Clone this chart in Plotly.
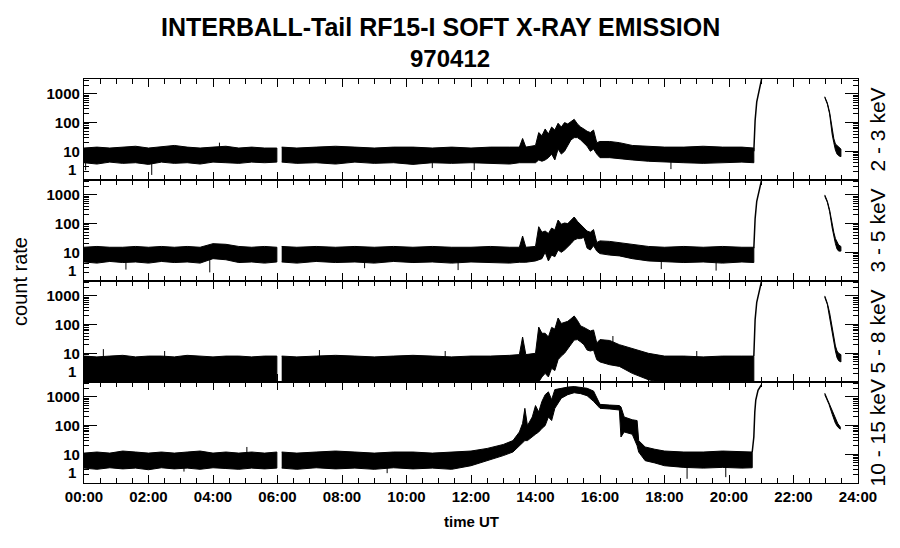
import plotly.graph_objects as go
from plotly.subplots import make_subplots

# ---------------- data ----------------
# time in hours UT
T_QUIET = [0.0, 0.4, 0.8, 1.2, 1.6, 2.0, 2.4, 2.8, 3.2, 3.6, 4.0, 4.4, 4.8, 5.2, 5.6, 5.98]
T_MAIN = [6.13, 6.6, 7.2, 7.8, 8.4, 9.0, 9.6, 10.2, 10.8, 11.4,
          12.0, 12.6, 13.2, 13.5, 13.6, 13.7,
          14.0, 14.1, 14.2, 14.3, 14.4, 14.5, 14.6, 14.7, 14.8, 14.9,
          15.0, 15.1, 15.2, 15.3, 15.4, 15.5, 15.6, 15.7, 15.8, 15.9,
          16.0, 16.3, 16.6, 17.0, 17.5,
          18.0, 18.6, 19.2, 19.8, 20.4, 20.77]
T_RISE = [20.77, 20.81, 20.86, 20.94, 21.01]
T_DECAY = [22.97, 23.05, 23.12, 23.2, 23.25, 23.3, 23.35, 23.4, 23.47]

# 2 - 3 keV
E23_HI_Q = [13, 14, 13, 14, 15, 13, 14, 16, 14, 13, 14, 15, 13, 14, 13, 13]
E23_LO_Q = [4.0, 3.6, 4.2, 3.8, 4.0, 3.5, 4.2, 3.8, 4.0, 3.6, 4.2, 4.0, 3.8, 4.2, 4.0, 4.2]
E23_HI_M = [14, 13, 14, 15, 14, 13, 14, 14, 13, 14,
            13, 14, 14, 14, 28, 14,
            16, 45, 35, 60, 40, 70, 55, 95, 70, 100,
            90, 110, 130, 90, 70, 60, 50, 45, 55, 20,
            22, 22, 20, 16, 15,
            14, 14, 15, 14, 14, 13]
E23_LO_M = [4.2, 3.8, 4.0, 3.6, 4.2, 3.8, 4.0, 3.5, 4.0, 3.8,
            4.0, 3.8, 3.6, 4.0, 4.0, 4.0,
            4.0, 5.0, 4.5, 5.0, 6.0, 8.0, 5.0, 12, 8, 10,
            15, 25, 30, 30, 25, 20, 15, 10, 12, 8,
            6.0, 6.0, 5.5, 5.0, 4.5,
            4.2, 4.0, 3.8, 4.0, 4.2, 4.0]
E23_RISE = [10, 120, 530, 1370, 3300]
E23_HI_D = [800, 480, 230, 50, 28, 18, 16, 14, 12]
E23_LO_D = [750, 440, 200, 38, 20, 11, 8, 7, 6.5]
E23_SPIKE_T = [0.05, 2.1, 4.2, 10.8, 12.1, 18.2]
E23_SPIKE_V = [2.2, 1.5, 20, 2.6, 2.2, 2.4]

# 3 - 5 keV
E35_HI_Q = [15, 16, 15, 15, 16, 15, 16, 15, 16, 15, 20, 19, 16, 15, 16, 15]
E35_LO_Q = [4.6, 4.2, 4.8, 4.4, 4.6, 4.2, 4.8, 4.4, 4.6, 4.2, 6.0, 5.5, 4.4, 4.6, 4.2, 4.6]
E35_HI_M = [16, 15, 16, 15, 16, 15, 16, 15, 16, 15,
            15, 16, 15, 15, 37, 15,
            16, 78, 50, 55, 45, 70, 60, 133, 95, 105,
            100, 130, 170, 120, 90, 70, 55, 50, 62, 22,
            25, 24, 22, 19, 16,
            15, 16, 15, 16, 15, 15]
E35_LO_M = [4.6, 4.2, 4.8, 4.4, 4.6, 4.2, 4.8, 4.4, 4.6, 4.2,
            4.6, 4.4, 4.2, 4.5, 4.5, 4.5,
            5.0, 5.4, 6.0, 10, 5.0, 8.0, 7.0, 12, 10, 12,
            15, 20, 27, 30, 30, 33, 14, 12, 17, 11,
            9.0, 8.0, 7.5, 6.0, 5.0,
            4.6, 4.4, 4.6, 4.2, 4.6, 4.4]
E35_RISE = [14, 150, 600, 1500, 3300]
E35_HI_D = [1000, 600, 300, 90, 50, 30, 22, 18, 16]
E35_LO_D = [900, 550, 260, 70, 35, 20, 13, 11, 11]
E35_SPIKE_T = [1.3, 3.9, 8.7, 11.6, 17.9, 19.6]
E35_SPIKE_V = [2.5, 2.0, 2.8, 2.4, 2.6, 2.3]

# 5 - 8 keV
E58_HI_Q = [8, 7.5, 8, 8.5, 7.5, 8, 8, 7.5, 8.5, 8, 7.5, 8, 8, 7.5, 8, 8]
E58_LO_Q = [0.9, 0.9, 0.9, 0.9, 0.9, 0.9, 0.9, 0.9, 0.9, 0.9, 0.9, 0.9, 0.9, 0.9, 0.9, 0.9]
E58_HI_M = [8, 7.5, 8, 8.5, 8, 7.5, 8, 8.5, 8, 7.5,
            8, 8, 8.5, 9, 37, 9,
            10, 82, 50, 50, 37, 80, 70, 170, 110, 120,
            130, 160, 200, 140, 90, 80, 70, 60, 65, 23,
            30, 28, 20, 15, 10,
            8, 8, 7.5, 8, 8, 8]
E58_LO_M = [0.9, 0.9, 0.9, 0.9, 0.9, 0.9, 0.9, 0.9, 0.9, 0.9,
            0.9, 0.9, 0.9, 0.9, 0.9, 0.9,
            0.9, 1.0, 1.5, 2.0, 1.5, 3.0, 2.5, 6.0, 8.0, 10,
            14, 20, 29, 30, 25, 20, 13, 12, 13, 6.0,
            5.0, 4.0, 3.5, 2.0, 1.2,
            0.9, 0.9, 0.9, 0.9, 0.9, 0.9]
E58_RISE = [8, 150, 600, 1500, 3300]
E58_HI_D = [1000, 550, 260, 70, 35, 18, 12, 10, 9]
E58_LO_D = [900, 500, 220, 55, 25, 12, 7, 5.5, 5]
E58_SPIKE_T = [0.6, 2.5, 7.3, 11.2, 16.4, 19.0]
E58_SPIKE_V = [14, 12, 13, 12, 40, 12]

# 10 - 15 keV
E1015_HI_Q = [11, 12, 11, 13, 12, 11, 12, 11, 12, 13, 11, 12, 11, 12, 11, 12]
E1015_LO_Q = [3.3, 3.0, 3.4, 3.1, 3.3, 2.9, 3.4, 3.1, 3.3, 3.0, 3.4, 3.2, 3.0, 3.3, 3.1, 3.3]
E1015_T_M = [6.13, 6.6, 7.2, 7.8, 8.4, 9.0, 9.6, 10.2, 10.8, 11.4,
             12.0, 12.5, 13.0, 13.3, 13.5, 13.6, 13.67, 13.75, 13.9,
             14.0, 14.1, 14.2, 14.3, 14.4, 14.5, 14.6,
             14.8, 15.0, 15.2, 15.4, 15.6, 15.8,
             16.0, 16.3, 16.6, 16.65, 16.75, 17.0, 17.15, 17.2,
             17.4, 17.7, 18.0, 18.6, 19.2, 19.8, 20.4, 20.72]
E1015_HI_M = [12, 11, 12, 13, 12, 11, 12, 12, 11, 12,
              13, 16, 22, 30, 60, 120, 400, 100, 200,
              500, 300, 700, 1200, 1500, 800, 1800,
              2000, 2200, 2300, 2200, 2000, 1600,
              550, 520, 500, 450, 200, 160, 150, 30,
              18, 15, 13, 12, 12, 13, 12, 12]
E1015_LO_M = [3.3, 3.0, 3.4, 3.1, 3.3, 3.0, 3.4, 3.1, 3.3, 3.0,
              4, 6, 9, 12, 20, 25, 30, 30, 40,
              50, 60, 80, 100, 200, 150, 400,
              900, 1200, 1400, 1300, 1100, 700,
              400, 380, 350, 40, 60, 50, 20, 12,
              6, 5, 4, 3.5, 3.3, 3.5, 3.3, 3.4]
E1015_T_RISE = [20.72, 20.77, 20.8, 20.83, 20.9, 21.0]
E1015_RISE = [12, 40, 300, 780, 1700, 2600]
E1015_T_D = [22.97, 23.1, 23.2, 23.3, 23.37, 23.45]
E1015_HI_D = [1350, 610, 300, 160, 120, 90]
E1015_LO_D = [1200, 550, 250, 120, 90, 75]
E1015_SPIKE_T = [3.1, 5.05, 9.4, 18.7, 19.9]
E1015_SPIKE_V = [2.5, 18, 2.2, 1.4, 1.6]

SPIKE_BASE = [8, 10, 4, 6]   # level inside each band where the spikes start

BAND_LABELS = ["2 - 3 keV", "3 - 5 keV", "5 - 8 keV", "10 - 15 keV"]
X_TICKS = [0, 2, 4, 6, 8, 10, 12, 14, 16, 18, 20, 22, 24]
X_LABELS = ["00:00", "02:00", "04:00", "06:00", "08:00", "10:00", "12:00",
            "14:00", "16:00", "18:00", "20:00", "22:00", "24:00"]
Y_TICKS = [1, 10, 100, 1000]
Y_LABELS = ["", "10", "100", "1000"]

PANELS = [
    (T_QUIET, E23_HI_Q, E23_LO_Q, T_MAIN, E23_HI_M, E23_LO_M, T_RISE, E23_RISE, T_DECAY, E23_HI_D, E23_LO_D,
     E23_SPIKE_T, E23_SPIKE_V),
    (T_QUIET, E35_HI_Q, E35_LO_Q, T_MAIN, E35_HI_M, E35_LO_M, T_RISE, E35_RISE, T_DECAY, E35_HI_D, E35_LO_D,
     E35_SPIKE_T, E35_SPIKE_V),
    (T_QUIET, E58_HI_Q, E58_LO_Q, T_MAIN, E58_HI_M, E58_LO_M, T_RISE, E58_RISE, T_DECAY, E58_HI_D, E58_LO_D,
     E58_SPIKE_T, E58_SPIKE_V),
    (T_QUIET, E1015_HI_Q, E1015_LO_Q, E1015_T_M, E1015_HI_M, E1015_LO_M, E1015_T_RISE, E1015_RISE,
     E1015_T_D, E1015_HI_D, E1015_LO_D, E1015_SPIKE_T, E1015_SPIKE_V),
]

# ---------------- figure ----------------
fig = make_subplots(rows=4, cols=1, shared_xaxes=True, vertical_spacing=0)


def band(t, hi, lo):
    return list(t) + list(t)[::-1], list(hi) + list(lo)[::-1]


for i, (tq, hq, lq, tm, hm, lm, tr, vr, td, hd, ld, st, sv) in enumerate(PANELS, start=1):
    for t, hi, lo in ((tq, hq, lq), (tm, hm, lm), (td, hd, ld)):
        xs, ys = band(t, hi, lo)
        fig.add_trace(go.Scatter(x=xs, y=ys, mode="lines", fill="toself",
                                 fillcolor="black", line=dict(color="black", width=1),
                                 hoverinfo="skip", showlegend=False), row=i, col=1)
    fig.add_trace(go.Scatter(x=tr, y=vr, mode="lines",
                             line=dict(color="black", width=1.5),
                             hoverinfo="skip", showlegend=False), row=i, col=1)
    sx, sy = [], []
    for t, v in zip(st, sv):
        sx += [t, t, None]
        sy += [SPIKE_BASE[i - 1], v, None]
    fig.add_trace(go.Scatter(x=sx, y=sy, mode="lines", line=dict(color="black", width=1),
                             hoverinfo="skip", showlegend=False), row=i, col=1)

tick_font = dict(family="Liberation Sans, Arial, sans-serif", size=15, color="black", weight="bold")

for i in range(1, 5):
    fig.update_yaxes(type="log", range=[0, 3.52], tickmode="array", tickvals=Y_TICKS, ticktext=Y_LABELS,
                     ticks="inside", ticklen=13, tickwidth=1.2, tickcolor="black",
                     showline=True, linecolor="black", linewidth=1.2, mirror="ticks",
                     showgrid=False, zeroline=False, tickfont=tick_font,
                     minor=dict(dtick="D1", ticks="inside", ticklen=5,
                                tickwidth=1.2, tickcolor="black", showgrid=False),
                     layer="above traces",
                     row=i, col=1)
    fig.update_xaxes(range=[0, 24], tickmode="array", tickvals=X_TICKS, ticktext=X_LABELS,
                     ticks="inside", ticklen=8, tickwidth=1.2, tickcolor="black",
                     showline=True, linecolor="black", linewidth=1.2, mirror="ticks",
                     showgrid=False, zeroline=False, tickfont=tick_font,
                     showticklabels=(i == 4),
                     minor=dict(dtick=0.5, tick0=0, ticks="inside", ticklen=5, tickwidth=1.2,
                                tickcolor="black", showgrid=False),
                     layer="above traces",
                     row=i, col=1)

annotations = []
base_font = "Liberation Sans, Arial, sans-serif"
annotations.append(dict(text="INTERBALL-Tail RF15-I SOFT X-RAY EMISSION", xref="paper", yref="paper",
                        x=0.461, y=1.1275, xanchor="center", yanchor="middle", showarrow=False,
                        font=dict(family=base_font, size=25, color="black", weight="bold")))
annotations.append(dict(text="970412", xref="paper", yref="paper",
                        x=0.4729, y=1.05, xanchor="center", yanchor="middle", showarrow=False,
                        font=dict(family=base_font, size=24, color="black", weight="bold")))
annotations.append(dict(text="count rate", xref="paper", yref="paper", x=-0.0827, y=0.5,
                        xanchor="center", yanchor="middle", textangle=-90, showarrow=False,
                        font=dict(family=base_font, size=20, color="black")))
annotations.append(dict(text="time UT", xref="paper", yref="paper", x=0.5, y=-0.0965,
                        xanchor="center", yanchor="middle", showarrow=False,
                        font=dict(family=base_font, size=15, color="black", weight="bold")))
for i, lab in enumerate(BAND_LABELS, start=1):
    yref = "y domain" if i == 1 else f"y{i} domain"
    annotations.append(dict(text=lab, xref="paper", yref=yref, x=1.0258, y=0.5,
                            xanchor="center", yanchor="middle", textangle=-90, showarrow=False,
                            font=dict(family=base_font, size=21, color="black")))
    annotations.append(dict(text="1", xref="paper", yref=yref, x=0, y=0, xshift=-6,
                            xanchor="right", yanchor="bottom", showarrow=False,
                            font=tick_font))

fig.update_layout(width=900, height=548, margin=dict(l=84, r=42, t=79, b=65),
                  paper_bgcolor="white", plot_bgcolor="white", annotations=annotations,
                  showlegend=False)

fig.write_html("out.html", config={"displayModeBar": False},
               post_script="document.body.style.margin='0px';")
